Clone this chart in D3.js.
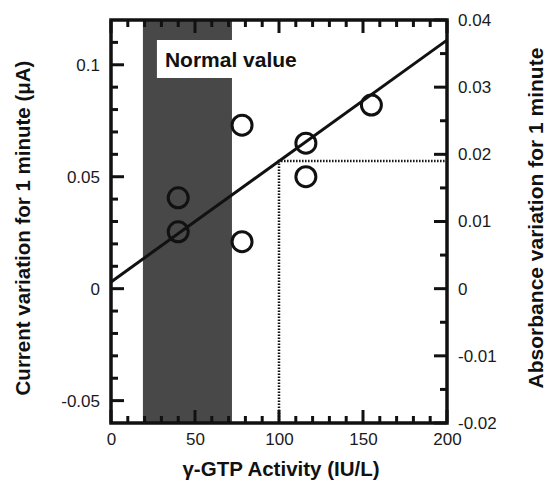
<!DOCTYPE html>
<html>
<head>
<meta charset="utf-8">
<script src="https://cdn.jsdelivr.net/npm/d3@7"></script>
<style>
  body { margin: 0; background: #fff; }
  svg { font-family: "Liberation Sans", Arial, Helvetica, sans-serif; }
  .tick text { font-size: 17px; fill: #1a1a1a; }
  .title { font-weight: bold; fill: #111; }
</style>
</head>
<body>
<script>
// measured points: gamma-GTP activity vs current variation
const activity = [40, 40, 78, 78, 116, 116, 155]
const current = [0.0406, 0.0254, 0.073, 0.021, 0.065, 0.050, 0.082]

// calibration line (left axis units)
const lineX = [0, 200]
const lineY = [0.003, 0.111]

// reading at 100 IU/L
const refX = 100
const refY = 0.057

// normal range of gamma-GTP
const normalRange = [19, 72]

const xTicks = [0, 50, 100, 150, 200]
const xMinor = [10, 20, 30, 40, 60, 70, 80, 90, 110, 120, 130, 140, 160, 170, 180, 190]
const leftTicks = [-0.05, 0, 0.05, 0.1]
const leftMinor = [-0.04, -0.03, -0.02, -0.01, 0.01, 0.02, 0.03, 0.04, 0.06, 0.07, 0.08, 0.09, 0.11]
const rightTicks = [-0.02, -0.01, 0, 0.01, 0.02, 0.03, 0.04]
const rightMinor = [-0.015, -0.005, 0.005, 0.015, 0.025, 0.035]

const margin = {top: 20, right: 102, bottom: 58, left: 111}
const width = 549 - margin.left - margin.right
const height = 481 - margin.top - margin.bottom

const svg = d3.select('body').append('svg')
  .attr('width', 549)
  .attr('height', 481)

const g = svg.append('g')
  .attr('transform', `translate(${margin.left},${margin.top})`)

const x = d3.scaleLinear().domain([0, 200]).range([0, width])
const yL = d3.scaleLinear().domain([-0.06, 0.12]).range([height, 0])
const yR = d3.scaleLinear().domain([-0.02, 0.04]).range([height, 0])

// normal value band
g.append('rect')
  .attr('x', x(normalRange[0]))
  .attr('y', 0)
  .attr('width', x(normalRange[1]) - x(normalRange[0]))
  .attr('height', height)
  .attr('fill', '#484848')

// label box
g.append('rect')
  .attr('x', x(normalRange[0]) + 14)
  .attr('y', 20)
  .attr('width', 150)
  .attr('height', 38)
  .attr('fill', '#fff')
g.append('text')
  .attr('class', 'title')
  .attr('x', x(normalRange[0]) + 22)
  .attr('y', 47)
  .style('font-size', '21px')
  .text('Normal value')

// dotted reading lines
g.append('path')
  .attr('d', `M${x(refX)},${height}V${yL(refY)}H${width}`)
  .attr('fill', 'none')
  .attr('stroke', '#111')
  .attr('stroke-width', 2.5)
  .attr('stroke-dasharray', '1.5,1.5')

// calibration line
g.append('path')
  .datum(lineX.map((d, i) => [d, lineY[i]]))
  .attr('d', d3.line().x(d => x(d[0])).y(d => yL(d[1])))
  .attr('fill', 'none')
  .attr('stroke', '#111')
  .attr('stroke-width', 3)

// points
g.append('g').selectAll('circle')
  .data(activity.map((d, i) => [d, current[i]]))
  .join('circle')
  .attr('cx', d => x(d[0]))
  .attr('cy', d => yL(d[1]))
  .attr('r', 10)
  .attr('fill', 'none')
  .attr('stroke', '#111')
  .attr('stroke-width', 3)

// tick labels from the axes
const fmt = d => String(d)
g.append('g').attr('transform', `translate(0,${height})`)
  .call(d3.axisBottom(x).tickValues(xTicks).tickSize(0).tickPadding(10).tickFormat(fmt))
g.append('g')
  .call(d3.axisLeft(yL).tickValues(leftTicks).tickSize(0).tickPadding(11).tickFormat(fmt))
g.append('g').attr('transform', `translate(${width},0)`)
  .call(d3.axisRight(yR).tickValues(rightTicks).tickSize(0).tickPadding(11).tickFormat(fmt))
g.selectAll('.domain').remove()

// inward tick marks
const tk = g.append('g')
  .attr('stroke', '#111')
  .attr('stroke-width', 3)
function hTicks(values, scale, len) {
  values.forEach(v => {
    tk.append('line').attr('x1', scale(v)).attr('x2', scale(v)).attr('y1', height).attr('y2', height - len)
    tk.append('line').attr('x1', scale(v)).attr('x2', scale(v)).attr('y1', 0).attr('y2', len)
  })
}
function vTicks(values, scale, x0, dir, len) {
  values.forEach(v => {
    tk.append('line').attr('y1', scale(v)).attr('y2', scale(v)).attr('x1', x0).attr('x2', x0 + dir * len)
  })
}
hTicks(xMinor, x, 7)
hTicks(xTicks, x, 13)
vTicks(leftMinor, yL, 0, 1, 7)
vTicks(leftTicks, yL, 0, 1, 13)
vTicks(rightMinor, yR, width, -1, 7)
vTicks(rightTicks, yR, width, -1, 13)

// frame
g.append('rect')
  .attr('width', width)
  .attr('height', height)
  .attr('fill', 'none')
  .attr('stroke', '#111')
  .attr('stroke-width', 3.5)

// titles
svg.append('text')
  .attr('class', 'title')
  .attr('text-anchor', 'middle')
  .attr('x', 281)
  .attr('y', 476)
  .style('font-size', '20.5px')
  .text('γ-GTP Activity (IU/L)')

svg.append('text')
  .attr('class', 'title')
  .attr('text-anchor', 'middle')
  .attr('transform', 'translate(30,228) rotate(-90)')
  .style('font-size', '20.5px')
  .text('Current variation for 1 minute (μA)')

svg.append('text')
  .attr('class', 'title')
  .attr('text-anchor', 'middle')
  .attr('transform', 'translate(543,218) rotate(-90)')
  .style('font-size', '21px')
  .text('Absorbance variation for 1 minute')
</script>
</body>
</html>
